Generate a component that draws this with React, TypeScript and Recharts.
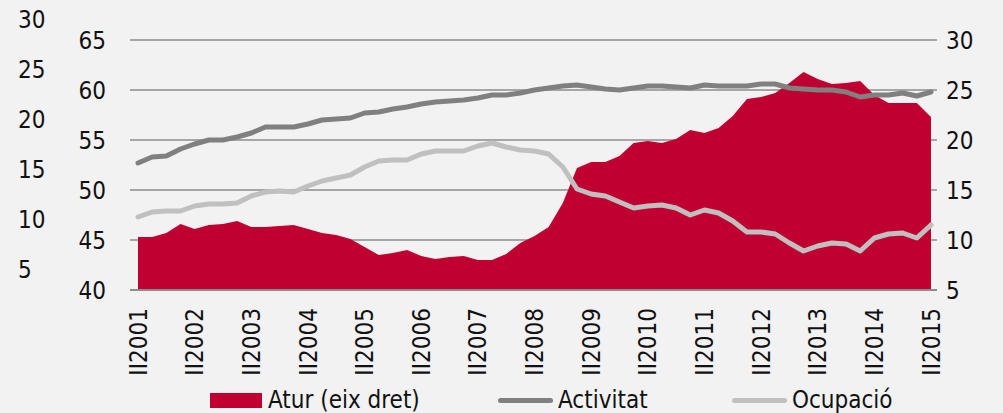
import React from "react";
import {
  ComposedChart,
  Area,
  Line,
  XAxis,
  YAxis,
  CartesianGrid,
} from "recharts";

const years = [2001, 2002, 2003, 2004, 2005, 2006, 2007, 2008, 2009, 2010, 2011, 2012, 2013, 2014, 2015];
const quarterNames = ["I", "II", "III", "IV"];

// quarterly labels, II2001 .. II2015
const quarters: string[] = years
  .flatMap((y) => quarterNames.map((q) => q + y))
  .slice(1, 58);

const atur = [
  10.3, 10.3, 10.7, 11.6, 11.1, 11.5, 11.6, 11.9, 11.3, 11.3, 11.4, 11.5, 11.1, 10.7, 10.5,
  10.1, 9.3, 8.5, 8.7, 9.0, 8.4, 8.1, 8.3, 8.4, 8.0, 8.0, 8.6, 9.7, 10.4, 11.3,
  13.7, 17.2, 17.8, 17.8, 18.4, 19.7, 19.9, 19.7, 20.1, 21.0, 20.7, 21.2, 22.4, 24.1, 24.3,
  24.7, 25.7, 26.8, 26.1, 25.6, 25.7, 25.9, 24.5, 23.7, 23.7, 23.7, 22.3,
];

const activitat = [
  52.7, 53.3, 53.4, 54.1, 54.6, 55.0, 55.0, 55.3, 55.7, 56.3, 56.3, 56.3, 56.6, 57.0, 57.1,
  57.2, 57.7, 57.8, 58.1, 58.3, 58.6, 58.8, 58.9, 59.0, 59.2, 59.5, 59.5, 59.7, 60.0, 60.2,
  60.4, 60.5, 60.3, 60.1, 60.0, 60.2, 60.4, 60.4, 60.3, 60.2, 60.5, 60.4, 60.4, 60.4, 60.6,
  60.6, 60.2, 60.1, 60.0, 60.0, 59.8, 59.3, 59.5, 59.5, 59.7, 59.4, 59.8,
];

const ocupacio = [
  47.3, 47.8, 47.9, 47.9, 48.4, 48.6, 48.6, 48.7, 49.4, 49.8, 49.9, 49.8, 50.4, 50.9, 51.2,
  51.5, 52.3, 52.9, 53.0, 53.0, 53.6, 53.9, 53.9, 53.9, 54.4, 54.7, 54.3, 54.0, 53.9, 53.6,
  52.3, 50.1, 49.6, 49.4, 48.8, 48.2, 48.4, 48.5, 48.2, 47.5, 48.0, 47.7, 46.9, 45.8, 45.8,
  45.6, 44.7, 43.9, 44.4, 44.7, 44.6, 43.9, 45.2, 45.6, 45.7, 45.2, 46.5,
];

const leftTicks = [40, 45, 50, 55, 60, 65];
const rightTicks = [5, 10, 15, 20, 25, 30];

const FONT = '"Liberation Sans Narrow", "DejaVu Sans Condensed", "Arial Narrow", sans-serif';
const RED = "#c00030";
const DARK = "#808080";
const LIGHT = "#c0c0c0";
const TEXT = "#111";

const data = quarters.map((q, i) => ({
  q,
  atur: atur[i],
  activitat: activitat[i],
  ocupacio: ocupacio[i],
}));

function QuarterTick(props: any) {
  const { x, y, payload } = props;
  return (
    <text
      transform={`translate(${x},${y}) rotate(-90)`}
      textAnchor="end"
      dy="0.36em"
      fill={TEXT}
      fontSize={24}
      fontFamily={FONT}
    >
      {payload.value}
    </text>
  );
}

// right-axis label, plus the stray copy of it at the far left (shifted up)
function RightTick(props: any) {
  const { x, y, payload } = props;
  return (
    <g>
      <text x={x} y={y} dy="0.36em" textAnchor="start" fill={TEXT} fontSize={24} fontFamily={FONT}>
        {payload.value}
      </text>
      <text x={18} y={y - 21} dy="0.36em" textAnchor="start" fill={TEXT} fontSize={24} fontFamily={FONT}>
        {payload.value}
      </text>
    </g>
  );
}

function LegendBar() {
  const item = { position: "absolute" as const, top: 385, fontSize: 24, fontFamily: FONT, color: TEXT, lineHeight: "30px" };
  return (
    <>
      <div style={{ position: "absolute", left: 210, top: 393, width: 52, height: 15, background: RED }} />
      <div style={{ ...item, left: 268 }}>Atur (eix dret)</div>
      <div style={{ position: "absolute", left: 498, top: 398, width: 55, height: 5, borderRadius: 3, background: DARK }} />
      <div style={{ ...item, left: 558 }}>Activitat</div>
      <div style={{ position: "absolute", left: 732, top: 398, width: 55, height: 5, borderRadius: 3, background: LIGHT }} />
      <div style={{ ...item, left: 792 }}>Ocupació</div>
    </>
  );
}

export default function App() {
  return (
    <div
      style={{
        position: "fixed",
        left: 0,
        top: 0,
        width: 1003,
        height: 413,
        background: "#f2f2f2",
        overflow: "hidden",
      }}
    >
      <ComposedChart
        width={1003}
        height={413}
        data={data}
        margin={{ top: 40, right: 0, left: 60, bottom: 0 }}
      >
        <CartesianGrid yAxisId="left" vertical={false} stroke="#8c8c8c" strokeWidth={1.5} />
        <XAxis
          dataKey="q"
          interval={3}
          height={123}
          padding={{ left: 8, right: 6 }}
          tick={<QuarterTick />}
          tickLine={false}
          tickMargin={12}
          axisLine={{ stroke: "#8c8c8c", strokeWidth: 2 }}
        />
        <YAxis
          yAxisId="left"
          orientation="left"
          domain={[40, 65]}
          ticks={leftTicks}
          width={70}
          tickLine={false}
          tickSize={0}
          tickMargin={24}
          axisLine={false}
          tick={{ fill: TEXT, fontSize: 24, fontFamily: FONT }}
        />
        <YAxis
          yAxisId="right"
          orientation="right"
          domain={[5, 30]}
          ticks={rightTicks}
          width={66}
          tickLine={false}
          tickSize={0}
          tickMargin={9}
          axisLine={false}
          tick={<RightTick />}
        />
        <Area
          yAxisId="right"
          type="linear"
          dataKey="atur"
          fill={RED}
          fillOpacity={1}
          stroke="none"
          baseValue={5}
          isAnimationActive={false}
        />
        <Line
          yAxisId="left"
          type="linear"
          dataKey="activitat"
          stroke={DARK}
          strokeWidth={5}
          strokeLinecap="round"
          strokeLinejoin="round"
          dot={false}
          isAnimationActive={false}
        />
        <Line
          yAxisId="left"
          type="linear"
          dataKey="ocupacio"
          stroke={LIGHT}
          strokeWidth={5}
          strokeLinecap="round"
          strokeLinejoin="round"
          dot={false}
          isAnimationActive={false}
        />
      </ComposedChart>
      <LegendBar />
    </div>
  );
}
